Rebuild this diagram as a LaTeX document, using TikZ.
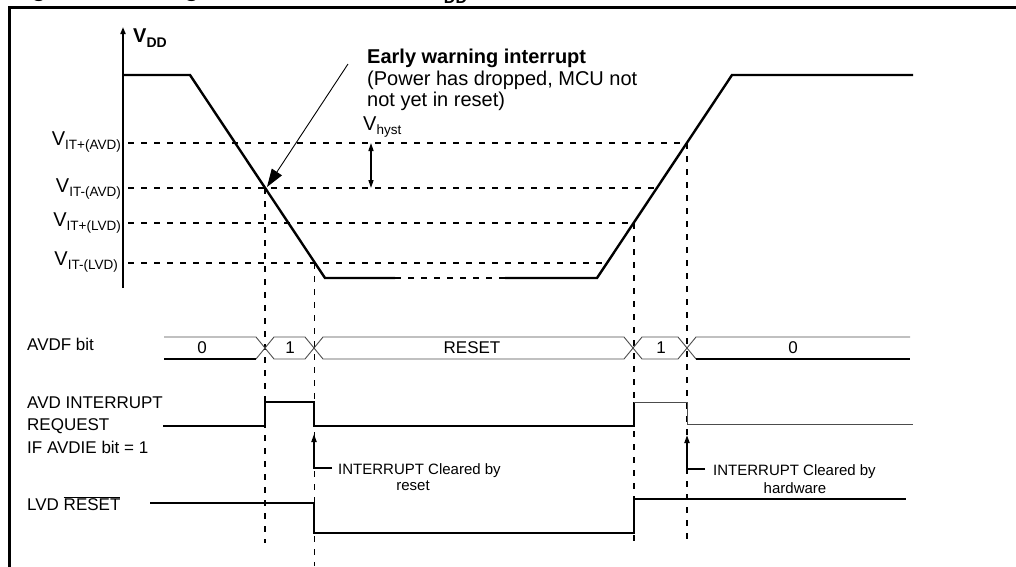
\documentclass[tikz,border=0pt]{standalone}
\usepackage{fontspec}
\setmainfont{Liberation Sans}
\usetikzlibrary{arrows.meta}
\newcommand\vsub[1]{\raisebox{-0.22em}{\fontsize{13.5}{14}\selectfont #1}}
\begin{document}
\begin{tikzpicture}[x=1pt,y=-1pt,
  wave/.style={line width=2.4pt},
  thinwave/.style={line width=0.9pt, draw=black!70},
  guide/.style={line width=1.8pt, dash pattern=on 6pt off 7pt},
  big/.style={inner sep=0pt, font=\fontsize{20}{21}\selectfont},
  bigb/.style={inner sep=0pt, font=\fontsize{20}{21}\selectfont\bfseries},
  lbl/.style={inner sep=0pt, font=\fontsize{17}{20}\selectfont},
  note/.style={inner sep=0pt, font=\fontsize{15}{16}\selectfont},
  smalltip/.style={-{Triangle[length=8pt,width=5pt]}},
]
\useasboundingbox (0,0) rectangle (1016,566);
% clipped caption
\begin{scope}
\clip (0,0) rectangle (1016,566);
\node[anchor=base west, inner sep=0pt, font=\fontsize{24}{26}\selectfont\bfseries] (title) at (10,-3.5)
  {Figure 14. Using the AVD to Monitor V\raisebox{-0.3em}{\fontsize{16}{16}\selectfont DD}};
\end{scope}
% frame
\draw[line width=2.5pt] (9.5,570) -- (9.5,7.5) -- (1020,7.5);

% axis
\coordinate (axb) at (123,288);
\coordinate (axt) at (123,27);
\draw[line width=1.8pt, -{Triangle[length=7pt,width=5pt]}] (axb) -- (axt);
\node[bigb, anchor=base west] (vdd) at (133,42) {V\raisebox{-0.25em}{\fontsize{14}{14}\selectfont DD}};

% thresholds
\draw[guide] (128,143) -- (686.8,143);
\draw[guide] (128,188) -- (656.9,188);
\draw[guide] (128,223) -- (633.6,223);
\draw[guide] (128,263) -- (607,263);
\node[big, anchor=base east] (l1) at (121,145) {V\vsub{IT+(AVD)}};
\node[big, anchor=base east] (l2) at (121,192) {V\vsub{IT-(AVD)}};
\node[big, anchor=base east] (l3) at (121,226) {V\vsub{IT+(LVD)}};
\node[big, anchor=base east] (l4) at (118,265) {V\vsub{IT-(LVD)}};

% VDD waveform
\draw[wave] (123,75) -- (190,75) -- (325,278) -- (395,278);
\draw[wave, dash pattern=on 6pt off 7pt] (395,278) -- (505,278);
\draw[wave] (505,278) -- (597,278) -- (732,75) -- (913,75);

% vertical guides
\draw[guide] (265,188) -- (265,543);
\draw[guide] (314.5,263) -- (314.5,566);
\draw[guide] (633.6,223) -- (633.6,545);
\draw[guide] (686.8,143) -- (686.8,545);

% hysteresis
\node[big, anchor=base west] (vhyst) at (363,130) {V\vsub{hyst}};
\coordinate (hy1) at (371,143);
\coordinate (hy2) at (371,188);
\draw[line width=1.5pt, {Triangle[length=8pt,width=5pt]}-{Triangle[length=8pt,width=5pt]}] (hy1) -- (hy2);

% early warning
\node[bigb, anchor=base west] (ew) at (367,63) {Early warning interrupt};
\node[big, anchor=base west] (ew2) at (367,85) {(Power has dropped, MCU not};
\node[big, anchor=base west] (ew3) at (367,106) {not yet in reset)};
\coordinate (ewfrom) at (348,64);
\coordinate (ewtip) at (267,187);
\draw[line width=0.9pt, -{Triangle[length=18pt,width=12pt]}] (ewfrom) -- (ewtip);

% AVDF bit bus
\node[lbl, anchor=base west] (avdf) at (27,350) {AVDF bit};
\draw[thinwave] (164,337) -- (256,337) -- (265,348) -- (274,337) -- (305,337) -- (314,348) -- (323,337)
  -- (624,337) -- (633,348) -- (642,337) -- (678,337) -- (687,348) -- (696,337) -- (910,337);
\draw[thinwave] (256,359) -- (265,348) -- (274,359) -- (305,359) -- (314,348) -- (323,359)
  -- (624,359) -- (633,348) -- (642,359) -- (678,359) -- (687,348) -- (696,359);
\draw[line width=2pt] (164,359) -- (256,359);
\draw[line width=2pt] (696,359) -- (910,359);
\node[lbl] (b0) at (202,348) {0};
\node[lbl] (b1) at (290,348) {1};
\node[lbl] (b2) at (472,348) {RESET};
\node[lbl] (b3) at (661,348) {1};
\node[lbl] (b4) at (793,348) {0};

% AVD interrupt request
\node[lbl, anchor=base west] (ir1) at (27,408) {AVD INTERRUPT};
\node[lbl, anchor=base west] (ir2) at (27,430) {REQUEST};
\node[lbl, anchor=base west] (ir3) at (27,453) {IF AVDIE bit = 1};
\draw[wave] (163,426) -- (265,426) -- (265,402) -- (314,402) -- (314,426) -- (634,426) -- (634,402);
\draw[thinwave] (634,402) -- (687,402) -- (687,424) -- (913,424);

% LVD reset
\node[lbl, anchor=base west] (lvd) at (27,510) {LVD $\overline{\mbox{RESET}}$};
\draw[wave] (150,503) -- (314,503) -- (314,533) -- (634,533) -- (634,499) -- (906,499);

% cleared annotations
\coordinate (c1a) at (332,468);
\coordinate (c1b) at (314,434);
\draw[line width=1.8pt, smalltip] (c1a) -| (c1b);
\node[note, anchor=base west] (clr1) at (338,474) {INTERRUPT Cleared by};
\node[note, anchor=base] (clr1b) at (413,490) {reset};
\coordinate (c2a) at (705,469);
\coordinate (c2b) at (687,435);
\draw[line width=1.8pt, smalltip] (c2a) -| (c2b);
\node[note, anchor=base west] (clr2) at (713,475) {INTERRUPT Cleared by};
\node[note, anchor=base] (clr2b) at (795,493) {hardware};
\end{tikzpicture}
\end{document}
